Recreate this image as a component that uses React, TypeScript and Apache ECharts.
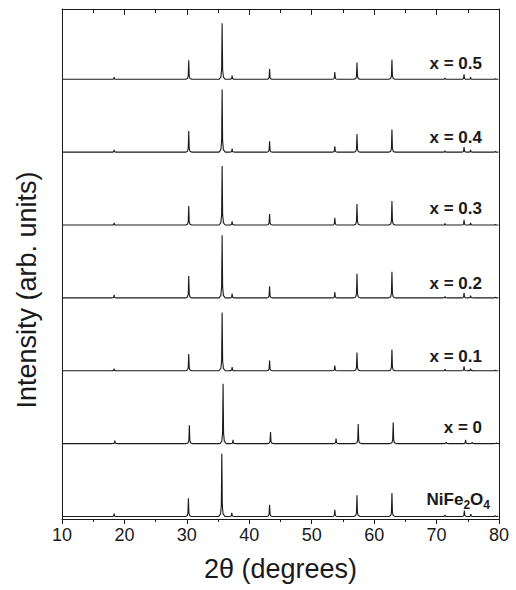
import React, { useEffect, useRef } from "react";
import * as echarts from "echarts";

// Sample order from bottom panel to top panel
const sampleLabels = ["NiFe2O4", "x = 0", "x = 0.1", "x = 0.2", "x = 0.3", "x = 0.4", "x = 0.5"];

// Peak positions (2θ, degrees)
const nife2o4Peaks = [18.35, 30.25, 35.6, 37.2, 43.25, 53.7, 57.25, 62.85, 71.35, 74.45, 75.5, 79.4];
const x0Peaks = [18.45, 30.4, 35.8, 37.4, 43.4, 53.9, 57.45, 63.05, 71.55, 74.65, 75.7, 79.6];
const dopedPeaks = [18.35, 30.3, 35.65, 37.25, 43.25, 53.7, 57.25, 62.85, 71.35, 74.4, 75.45, 79.4];

// Peak heights (fraction of one panel height)
const hNiFe2O4 = [0.04, 0.25, 0.86, 0.05, 0.16, 0.09, 0.29, 0.32, 0.02, 0.08, 0.03, 0.01];
const hX0 = [0.04, 0.25, 0.82, 0.05, 0.16, 0.07, 0.27, 0.29, 0.02, 0.05, 0.02, 0.01];
const hX01 = [0.03, 0.23, 0.8, 0.05, 0.14, 0.07, 0.25, 0.29, 0.02, 0.06, 0.03, 0.01];
const hX02 = [0.04, 0.3, 0.86, 0.06, 0.16, 0.08, 0.33, 0.36, 0.02, 0.07, 0.03, 0.01];
const hX03 = [0.03, 0.26, 0.81, 0.05, 0.15, 0.1, 0.29, 0.33, 0.02, 0.07, 0.03, 0.01];
const hX04 = [0.03, 0.29, 0.86, 0.05, 0.15, 0.08, 0.25, 0.31, 0.02, 0.07, 0.03, 0.01];
const hX05 = [0.03, 0.26, 0.77, 0.05, 0.14, 0.1, 0.23, 0.27, 0.02, 0.07, 0.03, 0.01];

const samplePeaks = [nife2o4Peaks, x0Peaks, dopedPeaks, dopedPeaks, dopedPeaks, dopedPeaks, dopedPeaks];
const sampleHeights = [hNiFe2O4, hX0, hX01, hX02, hX03, hX04, hX05];
const baselineLevel = 0.035;

const xTickValues = [10, 20, 30, 40, 50, 60, 70, 80];

// Narrow peak profile (offset in degrees, fraction of peak height)
const profile: [number, number][] = [
  [-0.5, 0],
  [-0.2, 0.04],
  [-0.08, 0.18],
  [0, 1],
  [0.08, 0.18],
  [0.2, 0.04],
  [0.5, 0],
];

function buildSeriesData(i: number): [number, number][] {
  const base = i + baselineLevel;
  const pts: [number, number][] = [[xTickValues[0], base]];
  samplePeaks[i].forEach((p, k) => {
    const h = sampleHeights[i][k];
    profile.forEach(([dx, f]) => pts.push([p + dx, base + f * h]));
  });
  pts.push([xTickValues[xTickValues.length - 1], base]);
  return pts;
}

const FONT = "'Liberation Sans', Arial, Helvetica, sans-serif";
const INK = "#1a1a1a";

export default function App() {
  const ref = useRef<HTMLDivElement>(null);
  useEffect(() => {
    if (!ref.current) return;
    const chart = echarts.init(ref.current, undefined, { renderer: "svg" });
    const labelY = [497, 427, 356, 283, 208, 137, 63];
    const graphics: any[] = sampleLabels.map((name, i) => {
      if (name === "NiFe2O4") {
        return {
          type: "text",
          right: 516 - 490,
          top: labelY[i] - 10,
          style: {
            text: "{b|NiFe}{s|2}{b|O}{s|4}",
            font: `bold 17px ${FONT}`,
            fill: INK,
            rich: {
              b: { fontSize: 17, fontWeight: "bold", fontFamily: FONT, fill: INK, lineHeight: 20 },
              s: {
                fontSize: 12,
                fontWeight: "bold",
                fontFamily: FONT,
                fill: INK,
                lineHeight: 12,
                padding: [12, 0, 0, 0],
              },
            },
          },
        };
      }
      return {
        type: "text",
        x: 482,
        y: labelY[i],
        style: {
          text: name,
          font: `bold 17px ${FONT}`,
          fill: INK,
          align: "right",
          verticalAlign: "middle",
        },
      };
    });
    graphics.push({
      type: "text",
      x: 27,
      y: 290,
      rotation: Math.PI / 2,
      style: {
        text: "Intensity (arb. units)",
        font: `27px ${FONT}`,
        fill: INK,
        align: "center",
        verticalAlign: "middle",
      },
    });

    const baseX = {
      type: "value",
      min: 10,
      max: 80,
      interval: 10,
      splitLine: { show: false },
      axisLine: { show: true, onZero: false, lineStyle: { color: INK, width: 1 } },
    };

    chart.setOption({
      animation: false,
      backgroundColor: "#fff",
      grid: { left: 62, right: 17, top: 9, bottom: 71, containLabel: false },
      xAxis: [
        {
          ...baseX,
          position: "bottom",
          name: "2θ (degrees)",
          nameLocation: "middle",
          nameGap: 36,
          nameTextStyle: { fontSize: 27, color: INK, fontFamily: FONT },
          axisTick: { show: true, inside: false, length: 5, lineStyle: { color: INK } },
          minorTick: { show: true, splitNumber: 2, length: 3, lineStyle: { color: INK } },
          axisLabel: { fontSize: 18, color: INK, fontFamily: FONT, margin: 7 },
        },
        {
          ...baseX,
          position: "top",
          axisTick: { show: true, inside: true, length: 6, lineStyle: { color: INK } },
          minorTick: { show: true, splitNumber: 2, length: 4, lineStyle: { color: INK } },
          axisLabel: { show: false },
        },
      ],
      yAxis: [
        {
          type: "value",
          min: 0,
          max: 7,
          position: "left",
          axisLine: { show: true, onZero: false, lineStyle: { color: INK, width: 1 } },
          axisTick: { show: false },
          axisLabel: { show: false },
          splitLine: { show: false },
        },
        {
          type: "value",
          min: 0,
          max: 7,
          position: "right",
          axisLine: { show: true, onZero: false, lineStyle: { color: INK, width: 1 } },
          axisTick: { show: false },
          axisLabel: { show: false },
          splitLine: { show: false },
        },
      ],
      series: sampleLabels.map((name, i) => ({
        type: "line",
        name,
        xAxisIndex: 0,
        yAxisIndex: 0,
        data: buildSeriesData(i),
        showSymbol: false,
        symbol: "none",
        lineStyle: { color: INK, width: 1.1 },
        silent: true,
      })),
      graphic: graphics,
    });
    return () => chart.dispose();
  }, []);
  return (
    <div
      ref={ref}
      style={{ position: "absolute", left: 0, top: 0, width: 516, height: 590, background: "#fff" }}
    />
  );
}
